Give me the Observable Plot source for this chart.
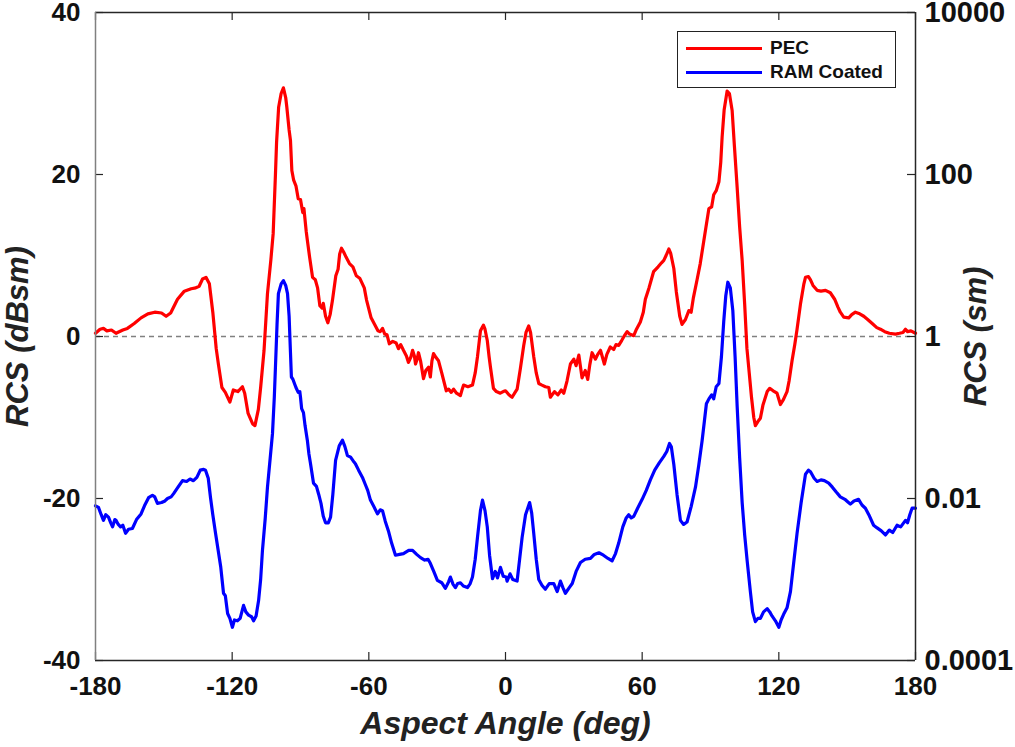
<!DOCTYPE html>
<html>
<head>
<meta charset="utf-8">
<script src="https://cdn.jsdelivr.net/npm/d3@7"></script>
<script src="https://cdn.jsdelivr.net/npm/@observablehq/plot@0.6"></script>
<style>
  html, body { margin: 0; padding: 0; background: #fff; }
  #wrap { position: relative; width: 1015px; height: 747px; }
  #legend {
    position: absolute; left: 677px; top: 31px; width: 217px; height: 55px;
    border: 1.5px solid #222; background: #fff;
    font-family: 'Liberation Sans', Arial, sans-serif; font-weight: bold; font-size: 19px; color: #111;
  }
  .row { position: absolute; left: 0; height: 24px; display: flex; align-items: center; }
  .sw { width: 76px; height: 3px; margin-left: 8px; margin-right: 8px; }
</style>
</head>
<body>
<div id="wrap"></div>
<script>
const xDomain = [-180, 180];
const yDomain = [-40, 40];
const xTicks = [-180, -120, -60, 0, 60, 120, 180];
const yTicks = [-40, -20, 0, 20, 40];
const rightTickLabels = ["0.0001", "0.01", "1", "100", "10000"];
const seriesNames = ["PEC", "RAM Coated"];
const seriesColors = ["#ff0000", "#0000ff"];

const pecAngle = [-180,-178,-176.5,-175,-173,-171,-168,-166,-163,-160,-157,-154,-151,-149,-147,-144,-141,-138,-136,-134.5,-133,-131.5,-130,-128.5,-127,-126,-124.5,-123,-121,-119.5,-117.5,-115.5,-114.5,-113,-111,-110,-108.5,-107.5,-106,-104.5,-103,-102,-101,-100.5,-99.6,-98.5,-97.5,-96.5,-96,-95,-94.4,-93.8,-93,-92,-91,-90,-89,-88.5,-87.5,-87,-86,-84.7,-83.5,-82.5,-81.5,-80.5,-80,-79,-78,-77,-76,-74.5,-73.5,-72.8,-72,-71,-70,-68.5,-67,-65.5,-64,-62,-61,-59,-57.5,-56,-55,-54,-53,-52,-51,-49.5,-48,-47,-46,-44.8,-43.5,-42.6,-41.5,-40.8,-40,-39.5,-38.8,-38.2,-37.3,-36,-35,-33.8,-33,-32.3,-31.6,-30.5,-29.4,-28,-26,-25,-23.8,-22.8,-21.5,-19.8,-19,-18.4,-16.5,-14.5,-13.3,-12.3,-11,-9.7,-9,-8,-7.2,-6.6,-5.3,-4,-2.3,-1,0,1.5,2.9,4,5.1,6.5,8,9,10.2,11,12.4,13.5,14.6,16,17.5,19,19.7,21.5,23,24.5,25.6,27,28.5,30,31,32.2,33.6,35,36.1,37,38,39.5,40.5,41.7,43.4,44.5,46,47.5,48.5,49.7,51,52,53.4,54.5,56.3,57.5,59.2,60.5,61.4,63,65,67,68.5,69.5,70.5,71.7,72.5,73.9,75,76.5,77.5,79,80.5,81.5,82.5,84.1,85.5,87,88,89.3,90.5,91.4,92.5,93.7,94.5,95.1,96,97.3,98.3,99.5,100.5,101.7,102.8,103.9,105,106,107,108,109,109.7,110.8,111.9,113,114.9,116,117.5,119.2,120.7,122,123.6,124.5,125.8,127,128,129.5,131,131.7,133,133.9,135,136.8,138.5,140.5,142.6,144.5,146,147,148.5,150.7,152,153.6,155.5,157.3,159,161,163,164.6,166.5,168.5,171.2,173,174.5,175.6,176.5,178,180];
const pecDb = [0.4,0.9,1.0,0.7,0.8,0.4,0.8,1.0,1.6,2.3,2.8,3.0,2.9,2.5,2.9,4.6,5.6,5.9,6.0,6.2,7.1,7.3,6.5,3.0,-1.5,-3.5,-6.3,-6.9,-8.1,-6.6,-6.8,-6.2,-7.0,-9.5,-10.8,-11,-9,-6.3,-1.7,5.3,9.5,12.7,20,24,28.3,30,30.7,29.5,28.3,25.5,24.2,20.5,19.3,18.6,17.0,16.9,15.3,15.8,13,11.9,9.8,7.3,7.0,6.0,3.8,3.5,4.1,2.5,1.7,2.7,4.4,7.5,8.3,10.2,10.9,10.4,9.8,9.0,8.6,7.5,7.2,6.0,4.5,2.3,1.5,0.7,0.6,1.0,0.3,0.2,-0.9,-0.6,-0.8,-1.5,-1.0,-1.7,-2.4,-3.2,-2.5,-1.7,-2.4,-3.4,-2.8,-2.0,-3.0,-5.2,-4.2,-3.8,-5,-3.0,-2.1,-2.6,-3.0,-4.5,-6.7,-6.5,-6.9,-6.5,-7.0,-7.3,-6.5,-6.0,-6.2,-6,-4.5,-2.5,0.7,1.4,0.9,-0.5,-2.5,-3.8,-6.4,-6.8,-7.0,-6.8,-6.7,-7.2,-7.5,-7.0,-6.5,-4.0,-1.1,0.5,1.3,0.5,-2.5,-4.5,-5.8,-6.0,-6.2,-6.3,-7.5,-6.8,-7.2,-6.6,-7,-5.5,-3.4,-2.8,-3.6,-2.3,-5.1,-4.2,-5.3,-3.5,-2.0,-2.8,-2.2,-1.7,-3.4,-2.2,-1.3,-1.6,-1.0,-1.1,-0.5,0.0,0.6,0.3,0.1,0.9,1.8,3.0,4.6,6.0,8,8.6,9.1,9.4,10.0,10.8,10.3,8.4,5.5,2.5,1.5,2.1,3.2,3.0,4.8,7.0,9.0,11.7,13.5,15.8,16.0,17.5,18.0,19.1,21.5,24.6,28.0,30.3,30.0,27.9,23.5,18.4,13.5,9.4,4.0,-1.5,-4.5,-7.5,-10,-11,-10.5,-10.1,-8.5,-6.8,-6.4,-6.7,-7,-8.4,-7.8,-6.8,-5.5,-3,-1,0.9,4.0,6.5,7.3,7.4,7.0,6.3,5.7,5.6,5.7,5.4,4.6,3.6,3.0,2.4,2.3,2.7,3.0,2.8,2.5,2.1,1.6,1.1,0.9,0.6,0.4,0.3,0.4,0.5,0.9,0.6,0.7,0.4];

const ramAngle = [-180,-178.7,-177.5,-176.5,-175.5,-174.3,-173.3,-172.5,-171.5,-171,-170,-169,-168,-166.8,-165.5,-163.8,-162,-160,-158.5,-156.7,-155,-154,-152.8,-151,-149.5,-148.4,-146.8,-145.7,-144,-141.8,-140,-138.5,-137,-135.5,-134,-132.5,-131.7,-130.5,-129.5,-128.5,-127.3,-125,-123.8,-123,-122,-121,-119.9,-119,-117.7,-116.5,-115,-114,-112.8,-111.5,-110.6,-109.5,-108.4,-107.5,-106.7,-105.5,-104.5,-103.3,-102.3,-101.5,-101,-100.3,-99.7,-98.5,-97.5,-96.5,-95.7,-95,-94.4,-94,-93.3,-92,-91,-90.3,-90,-89.5,-88.7,-88,-87,-86.3,-85.6,-84.3,-83,-82,-81,-80,-79,-77.8,-76.8,-75.8,-74.6,-73,-71.6,-70.5,-69.4,-68,-66.5,-65.9,-64.5,-62.8,-61.5,-60.5,-59.3,-57.8,-56.2,-55,-54,-52.8,-51.4,-50,-48.3,-46.5,-44.8,-42.5,-40.8,-39,-37.3,-35.5,-34,-33,-31.5,-29.9,-28,-26.4,-25,-24.2,-23,-22,-21,-19.8,-18.5,-16.7,-15.5,-14.5,-13.3,-12.3,-11,-10.1,-9,-8,-7,-5.7,-4.5,-3.5,-2.2,-1,0.3,0.7,2,3.2,5.1,6.2,7.3,8.8,10.6,11.5,12.4,13.5,14.6,16,17.5,19.2,21.2,22.7,24.1,25.2,26.3,28,29.3,31,32.9,35,37.3,39,41,43,45,46.8,48.3,49.7,51.5,53,54.1,55.2,56.3,58,60,61.8,63.6,65.5,67.5,69.5,70.8,72,72.8,73.9,75.3,76.8,78.2,79.7,81.5,83.4,84.8,86.3,87.3,88.2,89.3,90.5,91.4,92.5,93.7,94.8,95.8,96.7,97.6,98.7,99.8,100.8,101.7,102.8,103.9,105,106.1,107.5,108.5,109.7,110.8,111.9,113.3,114.9,116,117,118.5,120,121,122.1,123.6,125.1,126.5,128,129.8,131.7,133,133.9,135.5,136.8,138.5,140,141.9,143.5,145.2,147,149,150.2,151.4,153,155,156.5,158,159.5,161.6,163,165,166.8,168.5,170,171.9,173.5,175.6,176.5,177.5,178.5,180];
const ramDb = [-20.9,-21.1,-22.0,-22.7,-22.0,-22.3,-23.0,-23.5,-22.6,-22.7,-23.2,-23.5,-23.3,-24.3,-23.8,-23.7,-22.6,-21.9,-20.9,-19.9,-19.6,-19.8,-20.6,-20.5,-20.3,-20,-19.8,-19.4,-18.7,-17.8,-17.9,-17.6,-17.8,-17.4,-16.5,-16.4,-16.5,-17.5,-19.9,-22,-24.3,-28.5,-31.7,-32,-34.2,-34.8,-35.9,-35.0,-35.1,-34.8,-33.2,-34.0,-34.4,-34.6,-35.1,-34.5,-32.6,-30.0,-26.4,-22.5,-18.6,-15,-12,-7.5,-3.8,1.5,5.3,6.5,6.9,6.3,5.3,2.5,-2.0,-5.0,-5.3,-6.3,-6.9,-6.8,-7.5,-8.9,-9.4,-11,-12.8,-14.5,-15.7,-18.1,-18.5,-19.5,-20.6,-22.2,-23,-23.0,-22.3,-19.5,-15.3,-13.5,-12.8,-13.6,-14.7,-14.9,-15.5,-15.7,-16.5,-17.4,-18.3,-19.0,-20.2,-21.0,-21.9,-21.4,-21.5,-22.8,-24,-25.5,-27,-26.9,-26.8,-26.4,-26.4,-26.9,-27.3,-27.6,-27.5,-28,-29.0,-30.1,-30.4,-31.1,-30.3,-29.7,-30.6,-31,-30.5,-30.4,-30.8,-31,-30.5,-29.7,-27.5,-24.8,-21.5,-20.2,-21.5,-23.5,-27,-29.9,-29.0,-29.8,-28.5,-29.6,-29.7,-30.2,-29.3,-30.0,-30.2,-27.5,-24.8,-22.0,-20.5,-21.8,-24.3,-27.5,-30,-30.7,-31.2,-30.5,-30.5,-31.5,-30.2,-31.0,-31.7,-31.0,-30.5,-29.0,-27.9,-27.5,-27.4,-26.9,-26.7,-27.0,-27.4,-27.7,-26.8,-25.5,-23.5,-22.4,-22,-22.4,-22.2,-21.2,-20.1,-19.0,-17.7,-16.5,-15.6,-14.8,-14.2,-13.2,-13.6,-15.8,-19.5,-22.7,-23.2,-22.9,-21.0,-18.6,-16.0,-12.9,-10.5,-8.3,-7.7,-7.2,-7.7,-6.2,-5.8,-2.5,1.8,5.0,6.7,6.0,3.2,-2.5,-8.6,-15,-20.5,-24.5,-27.7,-31.5,-34.0,-35.2,-34.8,-34.8,-34.0,-33.6,-34.0,-34.5,-35.1,-35.9,-35.0,-34.3,-33.5,-31.5,-28.0,-24.3,-20.5,-17,-16.5,-16.7,-17.5,-17.9,-17.7,-17.8,-18.1,-18.6,-19.2,-19.8,-20.1,-20.4,-20.7,-20.3,-20.1,-20.8,-21.2,-22.0,-23.3,-23.6,-24.0,-24.5,-23.9,-24.2,-23.3,-23.5,-22.7,-23.0,-22.0,-21.2,-21.2];

const pec = pecAngle.map((a, i) => ({angle: a, db: pecDb[i]}));
const ram = ramAngle.map((a, i) => ({angle: a, db: ramDb[i]}));

const FONT = "'Liberation Sans', Arial, Helvetica, sans-serif";
const dark = "#262626";
const grey = "#808080";

const chart = Plot.plot({
  width: 1015,
  height: 747,
  marginLeft: 95,
  marginRight: 100,
  marginTop: 12,
  marginBottom: 87,
  style: {fontFamily: FONT, background: "white", color: "#111", overflow: "visible"},
  x: {domain: xDomain},
  y: {domain: yDomain},
  marks: [
    Plot.ruleY([0], {stroke: grey, strokeDasharray: "5,4", strokeWidth: 1.5}),
    Plot.line(pec, {x: "angle", y: "db", stroke: seriesColors[0], strokeWidth: 3.2, curve: "linear"}),
    Plot.line(ram, {x: "angle", y: "db", stroke: seriesColors[1], strokeWidth: 3.2, curve: "linear"}),
    Plot.tickX(xTicks, {x: d => d, insetTop: 640, stroke: dark, strokeWidth: 1.2}),
    Plot.tickX(xTicks, {x: d => d, insetBottom: 640, stroke: dark, strokeWidth: 1.2}),
    Plot.tickY(yTicks, {y: d => d, insetRight: 812, stroke: dark, strokeWidth: 1.2}),
    Plot.tickY(yTicks, {y: d => d, insetLeft: 812, stroke: dark, strokeWidth: 1.2}),
    Plot.ruleY([yDomain[0], yDomain[1]], {stroke: dark, strokeWidth: 1.5}),
    Plot.ruleX([xDomain[1]], {stroke: dark, strokeWidth: 1.5}),
    Plot.ruleX([xDomain[0]], {stroke: grey, strokeWidth: 1.5}),
    Plot.axisX({ticks: xTicks, tickSize: 0, tickPadding: 16, fontSize: 26, fontWeight: "bold", label: null, tickFormat: d => String(d)}),
    Plot.axisY({anchor: "left", ticks: yTicks, tickSize: 0, tickPadding: 15, fontSize: 26, fontWeight: "bold", label: null, tickFormat: d => String(d)}),
    Plot.axisY({anchor: "right", ticks: yTicks, tickSize: 0, tickPadding: 9, fontSize: 29, fontWeight: "bold", label: null,
      tickFormat: d => rightTickLabels[yTicks.indexOf(d)]}),
    Plot.text(["RCS (dBsm)"], {frameAnchor: "left", dx: -77, rotate: -90, textAnchor: "middle", fontSize: 31, fontStyle: "italic", fontWeight: "bold", fill: "#222"}),
    Plot.text(["RCS (sm)"], {frameAnchor: "right", dx: 61, rotate: -90, textAnchor: "middle", fontSize: 31, fontStyle: "italic", fontWeight: "bold", fill: "#222"}),
    Plot.text(["Aspect Angle (deg)"], {frameAnchor: "bottom", dy: 73, textAnchor: "middle", fontSize: 32, fontStyle: "italic", fontWeight: "bold", fill: "#222"})
  ]
});

const wrap = document.getElementById("wrap");
wrap.appendChild(chart);

const legend = document.createElement("div");
legend.id = "legend";
seriesNames.forEach((name, i) => {
  const row = document.createElement("div");
  row.className = "row";
  row.style.top = (4 + i * 24) + "px";
  const sw = document.createElement("div");
  sw.className = "sw";
  sw.style.background = seriesColors[i];
  const label = document.createElement("span");
  label.textContent = name;
  row.appendChild(sw);
  row.appendChild(label);
  legend.appendChild(row);
});
wrap.appendChild(legend);
</script>
</body>
</html>
